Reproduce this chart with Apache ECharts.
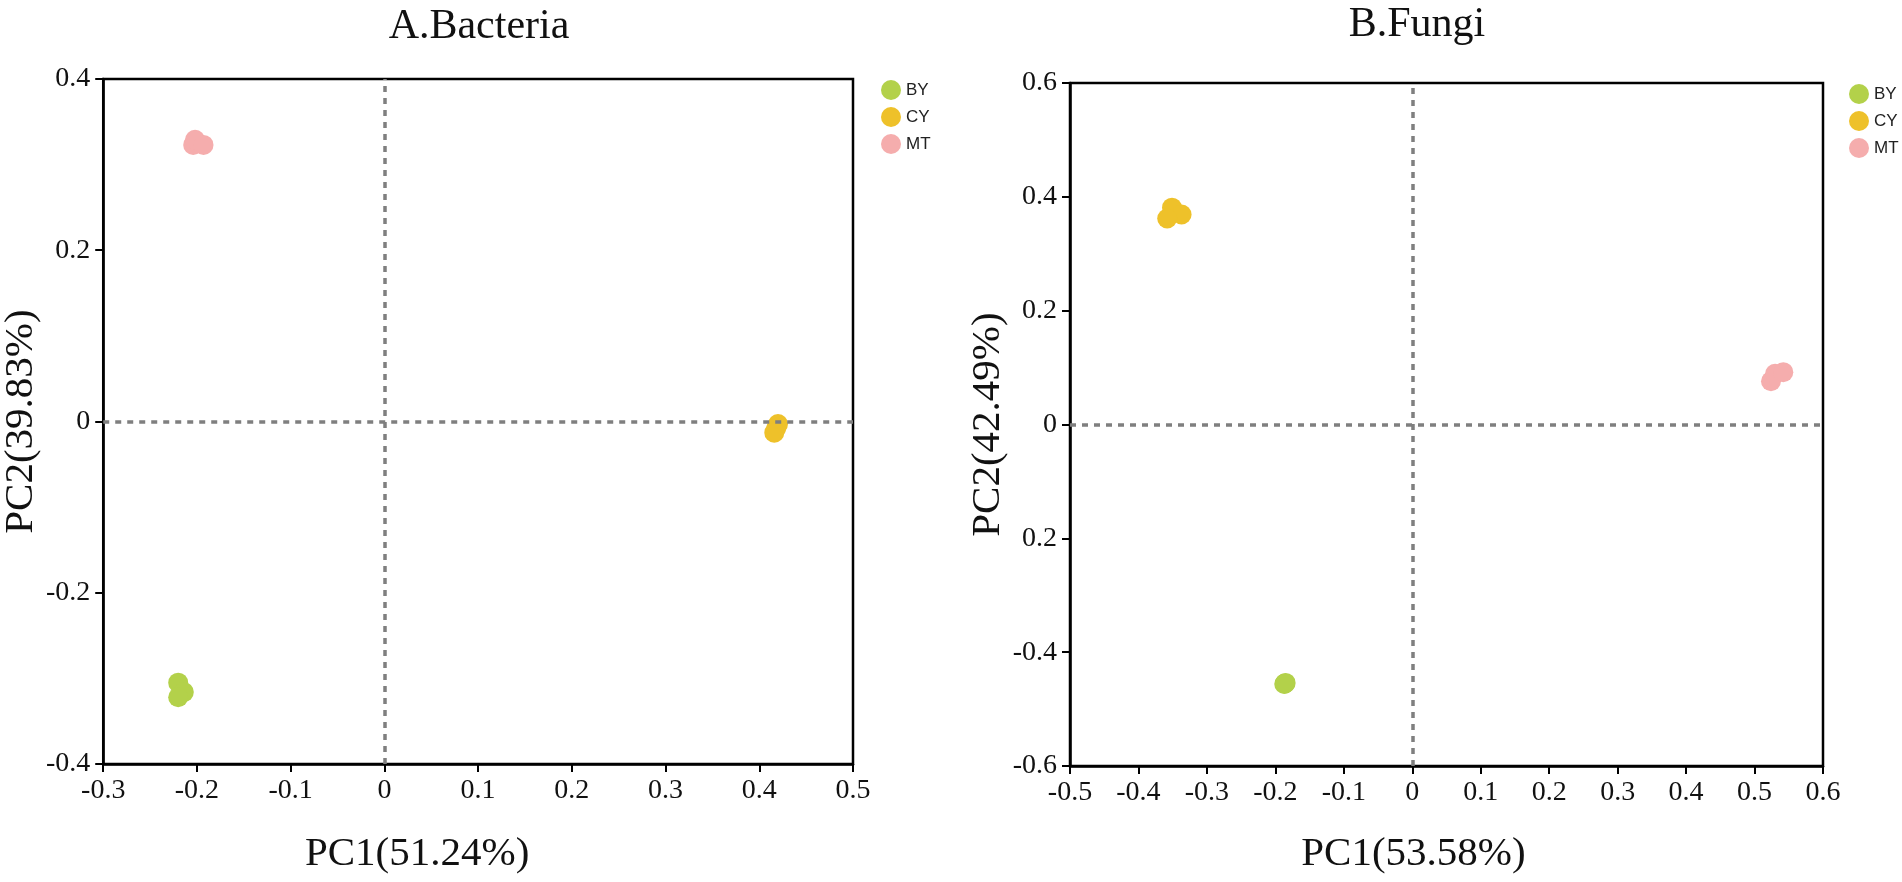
<!DOCTYPE html>
<html>
<head>
<meta charset="utf-8">
<title>PCoA</title>
<script src="https://cdn.jsdelivr.net/npm/echarts@6/dist/echarts.min.js"></script>
<style>
    html, body { margin: 0; padding: 0; background: #fff; }
    #main { width: 1902px; height: 882px; }
</style>
</head>
<body>
<div id="main"></div>
<script>
// ------------ data ------------
var groupNames = ['BY', 'CY', 'MT'];
var groupColors = ['#b3d14a', '#eec12a', '#f5adad'];

// A.Bacteria  [PC1, PC2]
var bacteriaBY = [[-0.220, -0.305], [-0.214, -0.316], [-0.220, -0.322]];
var bacteriaCY = [[0.420, -0.003], [0.418, -0.008], [0.416, -0.013]];
var bacteriaMT = [[-0.204, 0.323], [-0.202, 0.329], [-0.193, 0.323]];

// B.Fungi  [PC1, PC2]
var fungiBY = [[-0.186, -0.455], [-0.185, -0.454], [-0.187, -0.456]];
var fungiCY = [[-0.351, 0.381], [-0.337, 0.369], [-0.358, 0.362]];
var fungiMT = [[0.524, 0.076], [0.530, 0.089], [0.542, 0.092]];

// tick labels of B y axis, as printed in the figure (bottom -> top)
var fungiYLabels = ['-0.6', '-0.4', '0.2', '0', '0.2', '0.4', '0.6'];

var serif = 'Liberation Serif';
var sans = 'Liberation Sans';

function valueAxis(gridIndex, min, max, interval, nameText, nameGap, namePad, labelFmt){
    return {
        type: 'value',
        gridIndex: gridIndex,
        min: min,
        max: max,
        interval: interval,
        name: nameText,
        nameLocation: 'middle',
        nameGap: nameGap,
        nameTextStyle: {
            color: '#111',
            fontFamily: serif,
            fontSize: 41,
            padding: namePad
        },
        splitLine: {show: false},
        axisLine: {
            onZero: false,
            lineStyle: {color: '#000', width: 2.5}
        },
        axisTick: {
            show: true,
            length: 8,
            lineStyle: {color: '#000', width: 2}
        },
        axisLabel: {
            color: '#111',
            fontFamily: serif,
            fontSize: 28,
            margin: 13,
            formatter: labelFmt
        }
    };
}

// dashed cross through the origin
function zeroLines(){
    return {
        silent: true,
        symbol: 'none',
        label: {show: false},
        lineStyle: {color: '#7f7f7f', type: [6, 6], width: 3.5},
        data: [{xAxis: 0}, {yAxis: 0}]
    };
}

function groupSeries(idx, name, data, withLines){
    var s = {
        name: name,
        type: 'scatter',
        xAxisIndex: idx,
        yAxisIndex: idx,
        symbol: 'circle',
        symbolSize: 20,
        data: data,
        itemStyle: {color: groupColors[groupNames.indexOf(name)], opacity: 1}
    };
    if (withLines) { s.markLine = zeroLines(); }
    return s;
}

function legendAt(left, top){
    return {
        data: groupNames,
        orient: 'vertical',
        left: left,
        top: top,
        icon: 'circle',
        itemWidth: 20,
        itemHeight: 20,
        itemGap: 7,
        textStyle: {color: '#222', fontFamily: sans, fontSize: 17}
    };
}

var chart = echarts.init(document.getElementById('main'));
var option = {
    animation: false,
    color: groupColors,
    title: [
        {
            text: 'A.Bacteria', left: 474, top: 1, textAlign: 'center',
            textStyle: {color: '#111', fontFamily: serif, fontSize: 42, fontWeight: 'normal'}
        },
        {
            text: 'B.Fungi', left: 1412, top: -1, textAlign: 'center',
            textStyle: {color: '#111', fontFamily: serif, fontSize: 42, fontWeight: 'normal'}
        }
    ],
    legend: [legendAt(876, 75), legendAt(1844, 79)],
    grid: [
        {left: 102, top: 79, width: 751, height: 685, show: true, borderColor: '#000', borderWidth: 2.5},
        {left: 1070, top: 83, width: 753, height: 683, show: true, borderColor: '#000', borderWidth: 2.5}
    ],
    xAxis: [
        valueAxis(0, -0.3, 0.5, 0.1, 'PC1(51.24%)', 70, [0, 122, 0, 0]),
        valueAxis(1, -0.5, 0.6, 0.1, 'PC1(53.58%)', 68, [0, 66, 0, 0])
    ],
    yAxis: [
        valueAxis(0, -0.4, 0.4, 0.2, 'PC2(39.83%)', 52, 0),
        valueAxis(1, -0.6, 0.6, 0.2, 'PC2(42.49%)', 58, 0, function(v, i){ return fungiYLabels[i]; })
    ],
    series: [
        groupSeries(0, 'BY', bacteriaBY, true),
        groupSeries(0, 'CY', bacteriaCY, false),
        groupSeries(0, 'MT', bacteriaMT, false),
        groupSeries(1, 'BY', fungiBY, true),
        groupSeries(1, 'CY', fungiCY, false),
        groupSeries(1, 'MT', fungiMT, false)
    ]
};
chart.setOption(option);
</script>
</body>
</html>
